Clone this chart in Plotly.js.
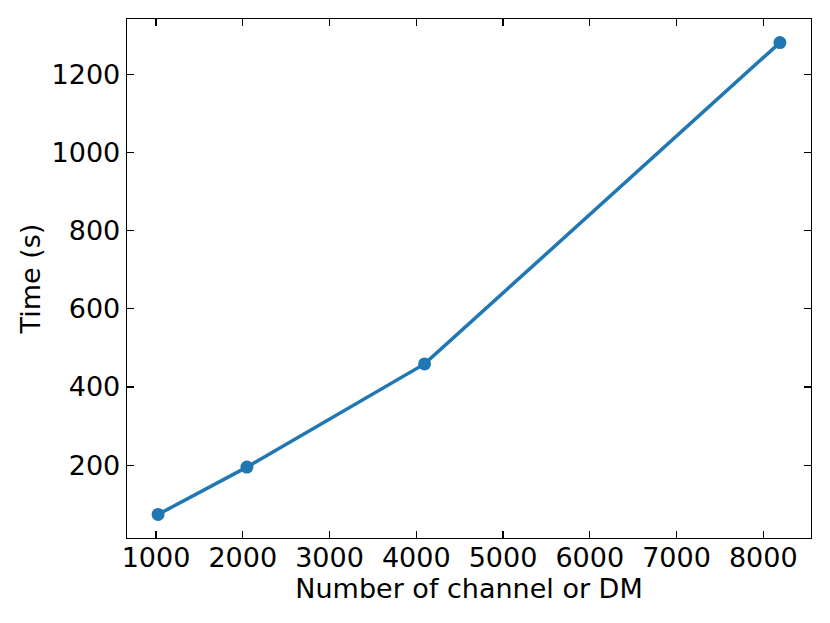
<!DOCTYPE html>
<html>
<head>
<meta charset="utf-8">
<script src="https://cdn.plot.ly/plotly-3.0.1.min.js"></script>
<style>html,body{margin:0;padding:0;background:#fff;}#chart{width:830px;height:623px;}</style>
</head>
<body>
<div id="chart"></div>
<script>
const channels = [1024, 2048, 4096, 8192];
const times = [74, 195, 459, 1281];
const xTicks = [1000, 2000, 3000, 4000, 5000, 6000, 7000, 8000];
const yTicks = [200, 400, 600, 800, 1000, 1200];

function padRange(arr) {
  const mn = Math.min(...arr), mx = Math.max(...arr);
  const m = (mx - mn) * 0.05;
  return [mn - m, mx + m];
}

const font = {family: 'DejaVu Sans, sans-serif', size: 27, color: '#000'};
const axisCommon = {
  showline: true, linecolor: '#000', linewidth: 1.3, mirror: 'ticks',
  ticks: 'inside', ticklen: 7, tickwidth: 1.3, tickcolor: '#000',
  showgrid: false, zeroline: false, tickfont: font
};

Plotly.newPlot('chart', [{
  x: channels, y: times, type: 'scatter', mode: 'lines+markers',
  line: {color: '#1f77b4', width: 3.5},
  marker: {color: '#1f77b4', size: 13}
}], {
  width: 830, height: 623,
  margin: {l: 127, r: 19, t: 19, b: 85},
  paper_bgcolor: '#fff', plot_bgcolor: '#fff',
  showlegend: false,
  font: font,
  xaxis: Object.assign({}, axisCommon, {
    range: padRange(channels), tickvals: xTicks, ticktext: xTicks.map(String),
    ticklabelstandoff: -5,
    title: {text: 'Number of channel or DM', font: font, standoff: 4}
  }),
  yaxis: Object.assign({}, axisCommon, {
    range: padRange(times), tickvals: yTicks, ticktext: yTicks.map(String),
    title: {text: 'Time (s)', font: font, standoff: 3}
  })
}, {staticPlot: true});
</script>
</body>
</html>
